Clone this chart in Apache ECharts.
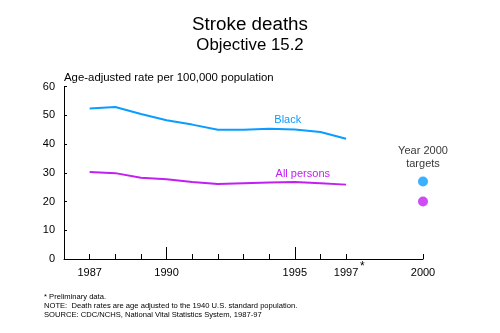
<!DOCTYPE html>
<html><head><meta charset="utf-8">
<script src="https://cdn.jsdelivr.net/npm/echarts@6/dist/echarts.min.js"></script>
<style>html,body{margin:0;padding:0;background:#fff}#c{width:500px;height:333px}</style>
</head><body><div id="c"></div>
<script>
var years = [1987,1988,1989,1990,1991,1992,1993,1994,1995,1996,1997];
var black = [52.4,52.9,50.5,48.3,46.8,45.0,45.0,45.4,45.1,44.2,41.9];
var allPersons = [30.3,29.9,28.3,27.8,26.8,26.1,26.4,26.6,26.8,26.4,25.9];
var targetYear = 2000;
var targetBlack = 27;
var targetAll = 20;
var xTickLabels = [1987,1990,1995,1997,2000];
var yTicks = [0,10,20,30,40,50,60];
var BLUE = '#0a9cff', PURPLE = '#c21ff2';
var FONT = 'Liberation Sans, Arial, Helvetica, sans-serif';

var chart = echarts.init(document.getElementById('c'), null, {renderer:'canvas'});
function pair(arr){ return years.map(function(y,i){ return [y, arr[i]]; }); }
var blackData = pair(black);
var allData = pair(allPersons);
var bi = years.indexOf(1995);
blackData[bi] = {value: blackData[bi], label:{show:true, position:'top', distance:4, offset:[-7,0], formatter:'Black', color:BLUE, fontSize:11, fontFamily:FONT}};
allData[bi] = {value: allData[bi], label:{show:true, position:'top', distance:3, offset:[8,0], formatter:'All persons', color:PURPLE, fontSize:11, fontFamily:FONT}};

var option = {
  animation:false,
  backgroundColor:'#fff',
  textStyle:{fontFamily:FONT},
  title:[
    {text:'Stroke deaths', left:'center', top:10, textStyle:{fontSize:18.8, fontWeight:'normal', color:'#000', fontFamily:FONT}},
    {text:'Objective 15.2', left:'center', top:32, textStyle:{fontSize:16.8, fontWeight:'normal', color:'#000', fontFamily:FONT}}
  ],
  grid:{left:64, right:77, top:86.7, bottom:74, containLabel:false},
  xAxis:[
    {type:'value', min:1986, max:2000, interval:1,
     axisLine:{show:true, lineStyle:{color:'#000', width:1}},
     axisTick:{show:true, inside:true, length:5, customValues:[1987,1988,1989,1990,1991,1992,1993,1994,1995,1996,1997,2000], lineStyle:{color:'#000'}},
     axisLabel:{show:true, customValues:xTickLabels, margin:8, fontSize:11, color:'#000', fontFamily:FONT, formatter:function(v){return String(v);}},
     splitLine:{show:false}},
    {type:'value', min:1986, max:2000, interval:1, position:'bottom',
     axisLine:{show:false},
     axisTick:{show:true, inside:true, length:12, customValues:[1990,1995], lineStyle:{color:'#000'}},
     axisLabel:{show:false}, splitLine:{show:false}}
  ],
  yAxis:{type:'value', min:0, max:60, interval:10,
     axisLine:{show:true, lineStyle:{color:'#000', width:1}},
     axisTick:{show:true, inside:true, length:3, lineStyle:{color:'#000'}},
     axisLabel:{margin:9, fontSize:11, color:'#000', fontFamily:FONT},
     splitLine:{show:false}},
  series:[
    {type:'line', name:'Black', data:blackData, showSymbol:true, symbol:'circle', symbolSize:0.01, smooth:false,
     lineStyle:{color:BLUE, width:2}, itemStyle:{color:BLUE}},
    {type:'line', name:'All persons', data:allData, showSymbol:true, symbol:'circle', symbolSize:0.01,
     lineStyle:{color:PURPLE, width:2}, itemStyle:{color:PURPLE}},
    {type:'scatter', name:'Targets', symbolSize:10,
     data:[
       {value:[targetYear, targetBlack], itemStyle:{color:BLUE},
        label:{show:true, position:'top', distance:6, formatter:'Year 2000\ntargets', color:'#000', fontSize:11, lineHeight:13, fontFamily:FONT}},
       {value:[targetYear, targetAll], itemStyle:{color:PURPLE}}
     ]}
  ]
};
chart.setOption(option);

var x1997 = chart.convertToPixel({xAxisIndex:0}, 1997);
var y0 = chart.convertToPixel({yAxisIndex:0}, 0);
chart.setOption({graphic:[
  {type:'text', left:64, top:72, style:{text:'Age-adjusted rate per 100,000 population', fontSize:11.4, fill:'#000', fontFamily:FONT}},
  {type:'text', x:x1997+14, y:y0+2, style:{text:'*', fontSize:12, fill:'#000', fontFamily:FONT}},
  {type:'text', left:44, top:293, style:{text:'* Preliminary data.', fontSize:7.6, fill:'#000', fontFamily:FONT}},
  {type:'text', left:44, top:302, style:{text:'NOTE:  Death rates are age adjusted to the 1940 U.S. standard population.', fontSize:7.6, fill:'#000', fontFamily:FONT}},
  {type:'text', left:44, top:311, style:{text:'SOURCE: CDC/NCHS, National Vital Statistics System, 1987-97', fontSize:7.6, fill:'#000', fontFamily:FONT}}
]});
</script></body></html>
